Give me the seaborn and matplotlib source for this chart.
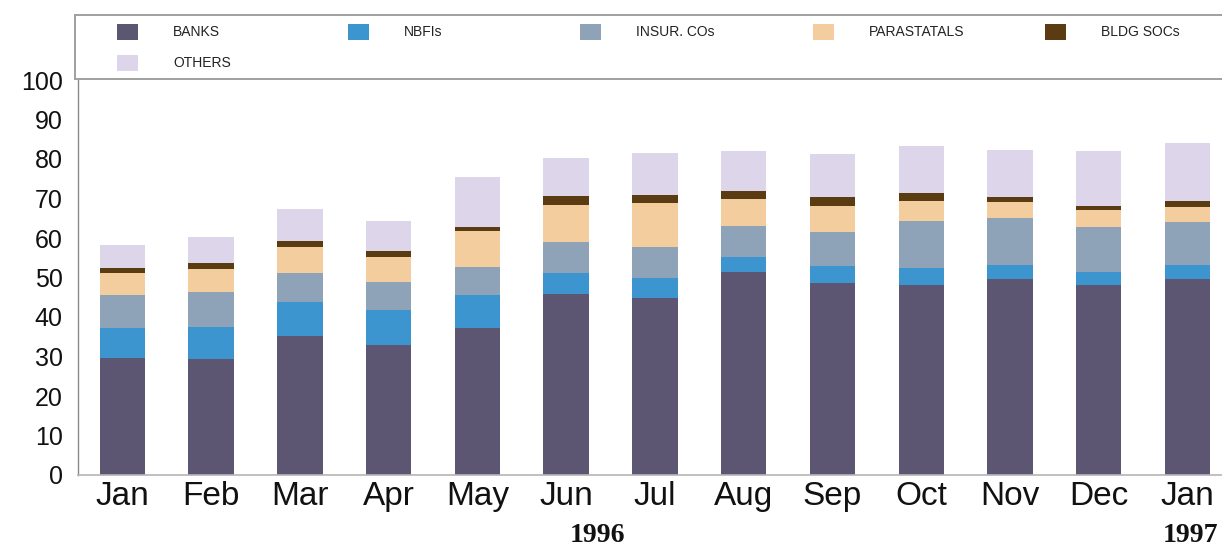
import matplotlib
matplotlib.use("Agg")
import matplotlib.pyplot as plt
from matplotlib.patches import Rectangle
import numpy as np
import pandas as pd
import seaborn as sns

# Monthly holdings by holder category, Jan 1996 - Jan 1997
periods = ["Jan-96", "Feb-96", "Mar-96", "Apr-96", "May-96", "Jun-96", "Jul-96",
           "Aug-96", "Sep-96", "Oct-96", "Nov-96", "Dec-96", "Jan-97"]
month_labels = ["Jan", "Feb", "Mar", "Apr", "May", "Jun", "Jul",
                "Aug", "Sep", "Oct", "Nov", "Dec", "Jan"]

banks       = [29.5, 29.3, 35.2, 32.9, 37.2, 45.8, 44.7, 51.5, 48.5, 48.1, 49.6, 48.1, 49.6]
nbfis       = [7.6, 8.1, 8.5, 8.9, 8.4, 5.4, 5.3, 3.6, 4.4, 4.2, 3.6, 3.2, 3.6]
insur_cos   = [8.5, 9.0, 7.5, 7.0, 7.0, 7.9, 7.8, 7.9, 8.7, 12.0, 11.8, 11.6, 10.9]
parastatals = [5.6, 5.7, 6.6, 6.3, 9.2, 9.3, 11.0, 6.8, 6.5, 5.1, 4.2, 4.2, 3.8]
bldg_socs   = [1.3, 1.5, 1.4, 1.6, 1.0, 2.2, 2.1, 2.1, 2.2, 1.9, 1.1, 1.1, 1.5]
others      = [5.7, 6.7, 8.1, 7.7, 12.7, 9.7, 10.5, 10.0, 11.0, 12.1, 12.1, 13.7, 14.6]

series_names = ["BANKS", "NBFIs", "INSUR. COs", "PARASTATALS", "BLDG SOCs", "OTHERS"]
series_values = [banks, nbfis, insur_cos, parastatals, bldg_socs, others]
series_colors = ["#5d5673", "#3d95cf", "#8ea3b8", "#f3cd9e", "#5b3b12", "#ddd5e9"]

years = ["1996", "1997"]
year_positions = [5.35, 12.04]

sns.set_theme(style="white")
plt.rcParams["font.family"] = ["Liberation Sans", "DejaVu Sans"]

df = pd.DataFrame({"period": periods})
for name, vals in zip(series_names, series_values):
    df[name] = vals
cum = df[series_names].cumsum(axis=1)
cum.insert(0, "period", periods)

fig = plt.figure(figsize=(12.22, 5.5), dpi=100)
W, H = 1222, 550
ax = fig.add_axes([78 / W, 75 / H, 1 - 78 / W, 395 / H])

# stacked bars: draw cumulative totals from the top segment down
for name, color in reversed(list(zip(series_names, series_colors))):
    sns.barplot(data=cum, x="period", y=name, order=periods, color=color,
                saturation=1, width=0.51, errorbar=None, ax=ax, linewidth=0)

ax.set_xlim(-0.5, 12.39)
ax.set_ylim(0, 100)
ax.set_yticks(np.arange(0, 101, 10))
ax.set_xticks(range(len(periods)))
ax.set_xticklabels(month_labels, fontsize=24)
ax.tick_params(axis="y", labelsize=18, length=0, pad=11, labelcolor="#111111")
ax.tick_params(axis="x", length=0, pad=4, labelcolor="#111111")
ax.set_xlabel("")
ax.set_ylabel("")
for s in ["top", "right"]:
    ax.spines[s].set_visible(False)
ax.spines["left"].set_color("#8a8a8a")
ax.spines["left"].set_linewidth(1.0)
ax.spines["bottom"].set_color("#b5b5b5")
ax.spines["bottom"].set_linewidth(1.2)

for yr, xp in zip(years, year_positions):
    ax.text(xp, -0.152, yr, transform=ax.get_xaxis_transform(),
            ha="center", va="center", fontsize=20, fontweight="bold",
            family="Liberation Serif", color="#111111")

# legend box across the top
frame = Rectangle((75 / W, (H - 79) / H), 1.1, 64 / H, transform=fig.transFigure,
                  facecolor="white", edgecolor="#a0a0a0", linewidth=1.4,
                  clip_on=False)
fig.add_artist(frame)
col_x = [117, 348, 580, 813, 1045]
row_y = [32, 63]
for i, (name, color) in enumerate(zip(series_names, series_colors)):
    r, c = divmod(i, 5)
    px, py = col_x[c], row_y[r]
    fig.add_artist(Rectangle((px / W, (H - py - 8) / H), 21 / W, 16 / H,
                             transform=fig.transFigure, facecolor=color,
                             edgecolor="none"))
    fig.text((px + 56) / W, (H - py) / H, name, fontsize=10, va="center",
             ha="left", color="#222222")

fig.savefig("out.png", dpi=100, facecolor="white")
